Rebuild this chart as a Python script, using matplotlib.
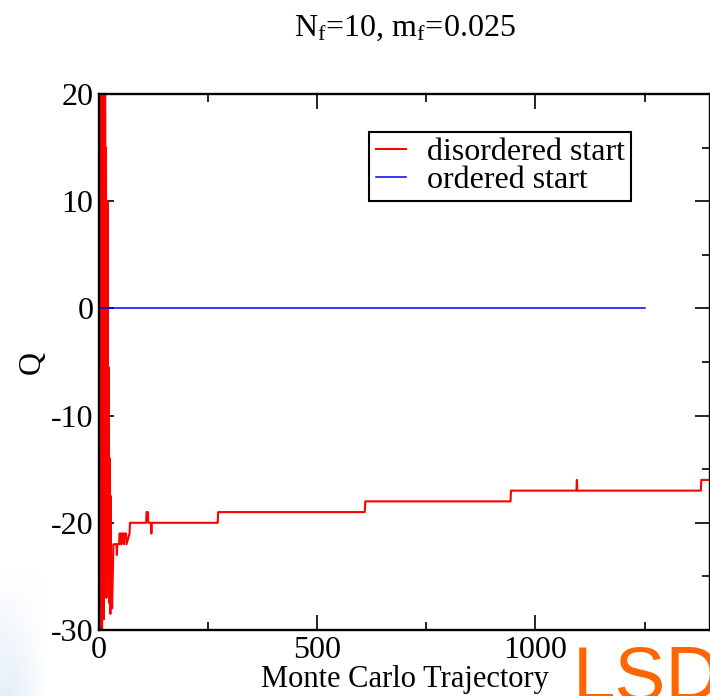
import numpy as np
import matplotlib
matplotlib.use("Agg")
import matplotlib.pyplot as plt
from matplotlib.ticker import MultipleLocator, AutoMinorLocator

plt.rcParams['font.family'] = ['Liberation Serif', 'DejaVu Serif']
plt.rcParams['mathtext.fontset'] = 'custom'
plt.rcParams['mathtext.rm'] = 'Liberation Serif'
plt.rcParams['mathtext.it'] = 'Liberation Serif:italic'
plt.rcParams['axes.unicode_minus'] = False

# disordered start: trajectory number and topological charge Q
dis_traj = [0, 1, 2, 3, 4, 5, 6, 7, 8, 9, 10, 11, 12, 13, 14, 15, 16, 17,
            18, 19, 20, 21, 22, 23, 24, 25, 26, 27, 28, 29, 30, 31, 32, 33,
            40, 41, 42, 46, 47, 50, 51, 52, 56, 57, 58, 62, 63, 70, 71,
            108, 109, 112, 113, 119, 120, 121, 272, 273, 609, 610, 943, 944,
            1094, 1095, 1096, 1379, 1380, 1400]
dis_q = [2, -30, 24, -28, 22, -26, 25, -30, 20, -22, 23, -29, 17, -24, 21, -16, 15, -27,
         4, -8, 10, -25, -5.5, -15, -27.5, -14, -28.5, -17.5, -27, -25, -28, -26, -24, -22,
         -22, -23, -22, -22, -21, -21, -22, -21, -21, -22, -21, -21, -22, -21, -20,
         -20, -19, -19, -20, -20, -21, -20, -20, -19, -19, -18, -18, -17,
         -17, -16, -17, -17, -16, -16]

# ordered start
ord_traj = [0, 250, 500, 750, 1000, 1250]
ord_q = [0, 0, 0, 0, 0, 0]

fig = plt.figure(figsize=(7.1, 6.96), dpi=100)

# faint blue smudge in the lower left corner of the slide
bg = fig.add_axes([0, 0, 0.07, 0.2], zorder=0)
gx = np.linspace(1, 0, 60)
gy = np.linspace(0, 1, 80)[:, None]
alpha = np.clip(gx[None, :] * 1.3, 0, 1) * np.clip(1 - gy * 1.1, 0, 1)
rgba = np.zeros((80, 60, 4))
rgba[..., 0] = 0.82
rgba[..., 1] = 0.89
rgba[..., 2] = 0.96
rgba[..., 3] = alpha * 0.55
bg.imshow(rgba, origin='lower', aspect='auto')
bg.axis('off')

ax = fig.add_axes([99 / 710, 1 - 630 / 696, 1 - 99 / 710, (630 - 94) / 696], zorder=1)
ax.patch.set_alpha(0)

ax.plot(dis_traj, dis_q, color='#ff0000', lw=1.5, label='disordered start')
ax.plot(ord_traj, ord_q, color='#0000ff', lw=1.1, label='ordered start')

ax.set_xlim(0, 1400)
ax.set_ylim(-30, 20)
ax.xaxis.set_major_locator(MultipleLocator(500))
ax.xaxis.set_minor_locator(AutoMinorLocator(2))
ax.yaxis.set_major_locator(MultipleLocator(10))
ax.yaxis.set_minor_locator(AutoMinorLocator(2))
ax.tick_params(which='both', direction='in', top=True, right=True, width=1.2, labelsize=23)
ax.tick_params(which='major', length=11, pad=4)
ax.tick_params(which='minor', length=5.5)
for s in ax.spines.values():
    s.set_linewidth(1.7)

ax.set_xlabel('Monte Carlo Trajectory', fontsize=22, labelpad=0)
ax.set_ylabel('Q', fontsize=23, labelpad=3)
ax.set_title(r'N$_\mathrm{f}$=10, m$_\mathrm{f}$=0.025', fontsize=23, pad=42)

leg = ax.legend(loc='upper right', bbox_to_anchor=(0.871, 0.93), fontsize=23,
                frameon=True, fancybox=False, framealpha=1, edgecolor='black',
                handlelength=0.95, handletextpad=0.65, labelspacing=-0.05,
                borderpad=0.2, borderaxespad=0)
leg.get_frame().set_linewidth(1.5)

fig.text(573 / 710, 1 - 700 / 696, 'LSD', fontsize=55, family='Liberation Sans',
         color='#ff6600', ha='left', va='baseline')

fig.savefig('out.png', dpi=100)
